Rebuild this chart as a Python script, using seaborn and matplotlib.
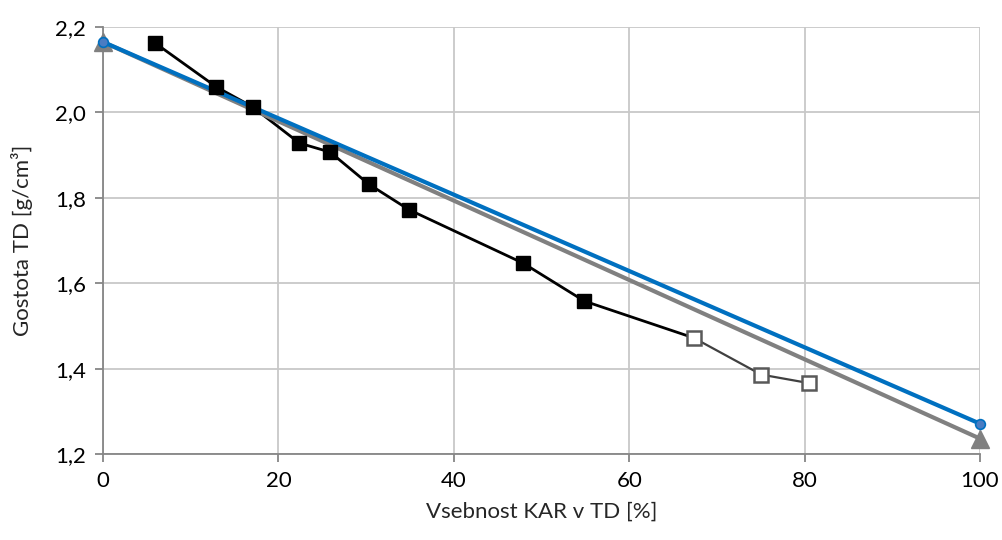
import numpy as np
import pandas as pd
import matplotlib
matplotlib.use("Agg")
import matplotlib.pyplot as plt
from matplotlib.ticker import FuncFormatter
import seaborn as sns

# measured points (filled squares)
kar_filled = [5.9, 12.9, 17.05, 22.4, 25.9, 30.3, 34.9, 47.9, 54.9]
dens_filled = [2.163, 2.060, 2.013, 1.928, 1.907, 1.832, 1.772, 1.647, 1.558]

# measured points (open squares)
kar_open = [67.35, 75.05, 80.5]
dens_open = [1.472, 1.386, 1.366]

# straight lines between pure components
blue_x = [0, 100]
blue_y = [2.165, 1.271]
gray_x = [0, 100]
gray_y = [2.165, 1.236]

sns.set_style("white")
plt.rcParams['font.family'] = ['Lato', 'DejaVu Sans']

fig = plt.figure(figsize=(10.02, 5.40), dpi=100)
ax = fig.add_axes([103 / 1002, 1 - 454 / 540, (980 - 103) / 1002, (454 - 27) / 540])

# connecting lines of measured data
sns.lineplot(x=kar_filled + [kar_open[0]], y=dens_filled + [dens_open[0]], sort=False,
             color='black', linewidth=2, ax=ax, zorder=3)
sns.lineplot(x=kar_open, y=dens_open, sort=False, color='#404040', linewidth=1.6, ax=ax, zorder=3)

# gray and blue reference lines
sns.lineplot(x=gray_x, y=gray_y, color='#808080', linewidth=3, ax=ax, zorder=4)
ax.plot(gray_x, gray_y, linestyle='none', marker='^', markersize=13, color='#808080',
        zorder=4, clip_on=False)
sns.lineplot(x=blue_x, y=blue_y, color='#0070C0', linewidth=3, ax=ax, zorder=5)
ax.plot(blue_x, blue_y, linestyle='none', marker='o', markersize=7,
        markerfacecolor='#4A7CC2', markeredgecolor='#0070C0', markeredgewidth=1.2,
        zorder=6, clip_on=False)

# markers
ax.plot(kar_filled, dens_filled, linestyle='none', marker='s', markersize=10,
        color='black', zorder=7)
ax.plot(kar_open, dens_open, linestyle='none', marker='s', markersize=10,
        markerfacecolor='white', markeredgecolor='#595959', markeredgewidth=1.8, zorder=7)

ax.set_xlim(0, 100)
ax.set_ylim(1.2, 2.2)
ax.set_xticks(np.arange(0, 101, 20))
ax.set_yticks(np.arange(1.2, 2.21, 0.2))
ax.yaxis.set_major_formatter(FuncFormatter(lambda v, p: f"{v:.1f}".replace('.', ',')))
ax.xaxis.set_major_formatter(FuncFormatter(lambda v, p: f"{v:.0f}"))

ax.grid(True, color='#c8c8c8', linewidth=1.3)
ax.set_axisbelow(True)
for side in ['top', 'right']:
    ax.spines[side].set_visible(False)
for side in ['left', 'bottom']:
    ax.spines[side].set_color('#868686')
    ax.spines[side].set_linewidth(1.3)

ax.tick_params(axis='both', which='major', direction='out', length=6, width=1.3,
               color='#868686', labelsize=16, labelcolor='black', pad=4)
ax.tick_params(axis='x', bottom=True, pad=6)
ax.tick_params(axis='y', left=True, pad=6)

ax.set_xlabel('Vsebnost KAR v TD [%]', fontsize=16, labelpad=8)
ax.set_ylabel('Gostota TD [g/cm³]', fontsize=16, labelpad=16)

fig.savefig('out.png', dpi=100)
